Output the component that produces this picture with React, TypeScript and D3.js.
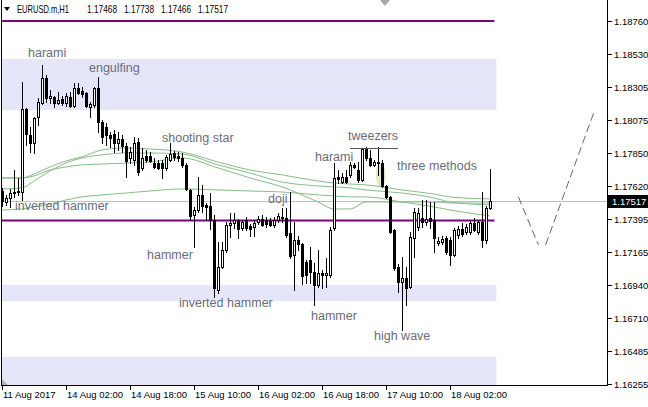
import React from 'react';
import * as d3 from 'd3';

const W = 648;
const H = 407;

const symbolName = 'EURUSD.m,H1';
const headerOHLC = ['1.17468', '1.17738', '1.17466', '1.17517'];

const opens = [1.17587,1.17511,1.17539,1.17573,1.17580,1.17580,1.18153,1.17974,1.17918,1.18098,1.18194,1.18367,1.18229,1.18236,1.18194,1.18222,1.18194,1.18236,1.18174,1.18298,1.18277,1.18263,1.18167,1.18181,1.18298,1.18063,1.18029,1.17974,1.17980,1.17918,1.17946,1.17898,1.17815,1.17801,1.17925,1.17746,1.17829,1.17829,1.17780,1.17780,1.17780,1.17746,1.17801,1.17849,1.17829,1.17815,1.17767,1.17594,1.17422,1.17456,1.17560,1.17491,1.17484,1.17387,1.16904,1.17063,1.17180,1.17353,1.17366,1.17387,1.17332,1.17387,1.17346,1.17339,1.17373,1.17394,1.17387,1.17380,1.17353,1.17387,1.17408,1.17401,1.17297,1.17146,1.17249,1.17221,1.17097,1.17111,1.17028,1.16939,1.17021,1.17008,1.17008,1.17332,1.17684,1.17649,1.17684,1.17698,1.17767,1.17732,1.17663,1.17877,1.17815,1.17767,1.17787,1.17780,1.17622,1.17546,1.17318,1.17063,1.16959,1.16987,1.16925,1.17263,1.17339,1.17401,1.17373,1.17401,1.17387,1.17228,1.17235,1.17263,1.17249,1.17146,1.17284,1.17325,1.17304,1.17304,1.17366,1.17304,1.17373,1.17249,1.17468];
const highs = [1.17608,1.17560,1.17601,1.17732,1.17677,1.18339,1.18160,1.18029,1.18098,1.18229,1.18457,1.18388,1.18284,1.18243,1.18270,1.18243,1.18263,1.18270,1.18332,1.18332,1.18305,1.18270,1.18201,1.18305,1.18374,1.18077,1.18056,1.17994,1.18008,1.17994,1.17974,1.17918,1.17891,1.17960,1.17953,1.17884,1.17870,1.17856,1.17815,1.17801,1.17801,1.17836,1.17918,1.17863,1.17856,1.17849,1.17780,1.17601,1.17477,1.17684,1.17629,1.17504,1.17573,1.17422,1.17235,1.17235,1.17373,1.17435,1.17435,1.17394,1.17387,1.17408,1.17359,1.17387,1.17415,1.17422,1.17408,1.17401,1.17408,1.17435,1.17470,1.17470,1.17580,1.17373,1.17277,1.17228,1.17111,1.17201,1.17090,1.17180,1.17042,1.17125,1.17339,1.17780,1.17732,1.17711,1.17732,1.17787,1.17780,1.17787,1.17884,1.17891,1.17870,1.17801,1.17891,1.17801,1.17629,1.17553,1.17325,1.17083,1.17132,1.17063,1.17304,1.17470,1.17470,1.17525,1.17525,1.17511,1.17511,1.17270,1.17277,1.17277,1.17270,1.17332,1.17346,1.17366,1.17359,1.17380,1.17401,1.17387,1.17580,1.17484,1.17738];
const lows = [1.17484,1.17491,1.17477,1.17546,1.17560,1.17525,1.17905,1.17856,1.17849,1.18043,1.18187,1.18201,1.18194,1.18167,1.18187,1.18181,1.18174,1.18167,1.18167,1.18256,1.18236,1.18167,1.18098,1.18167,1.17994,1.17918,1.17905,1.17891,1.17856,1.17870,1.17856,1.17684,1.17780,1.17767,1.17698,1.17732,1.17787,1.17787,1.17746,1.17739,1.17677,1.17732,1.17794,1.17801,1.17794,1.17753,1.17594,1.17387,1.17201,1.17442,1.17442,1.17387,1.17325,1.16856,1.16883,1.17056,1.17166,1.17270,1.17332,1.17263,1.17318,1.17318,1.17277,1.17277,1.17359,1.17346,1.17339,1.17346,1.17339,1.17373,1.17373,1.17270,1.17125,1.16904,1.17180,1.16945,1.16952,1.16952,1.16801,1.16925,1.16918,1.16925,1.16994,1.17318,1.17642,1.17642,1.17642,1.17684,1.17746,1.17649,1.17656,1.17801,1.17760,1.17760,1.17698,1.17615,1.17539,1.17297,1.17042,1.16890,1.16628,1.16801,1.16918,1.17132,1.17318,1.17339,1.17353,1.17332,1.17166,1.17215,1.17221,1.17152,1.17077,1.17139,1.17263,1.17277,1.17290,1.17290,1.17311,1.17290,1.17201,1.17228,1.17466];
const closes = [1.17518,1.17539,1.17573,1.17580,1.17587,1.18153,1.17980,1.17918,1.18091,1.18201,1.18367,1.18229,1.18243,1.18194,1.18215,1.18194,1.18243,1.18174,1.18298,1.18263,1.18256,1.18174,1.18187,1.18298,1.18063,1.17960,1.17974,1.17953,1.17918,1.17946,1.17898,1.17794,1.17856,1.17918,1.17718,1.17815,1.17801,1.17794,1.17753,1.17746,1.17746,1.17822,1.17842,1.17822,1.17815,1.17767,1.17601,1.17415,1.17456,1.17560,1.17484,1.17477,1.17387,1.16918,1.17063,1.17180,1.17353,1.17366,1.17387,1.17325,1.17373,1.17332,1.17325,1.17366,1.17394,1.17353,1.17359,1.17353,1.17387,1.17415,1.17401,1.17284,1.17139,1.17249,1.17221,1.17001,1.17008,1.17028,1.16939,1.17021,1.17008,1.17021,1.17318,1.17677,1.17670,1.17684,1.17649,1.17767,1.17753,1.17663,1.17877,1.17815,1.17767,1.17787,1.17780,1.17622,1.17546,1.17304,1.17056,1.16959,1.16987,1.16918,1.17270,1.17442,1.17435,1.17373,1.17394,1.17380,1.17263,1.17242,1.17256,1.17166,1.17146,1.17318,1.17325,1.17290,1.17339,1.17366,1.17318,1.17373,1.17249,1.17470,1.17517];

// moving averages sampled at bar indices
const maBars = [0,5,8,12,16,20,25,31,37,45,54,62,70,79,83,87,91,100,108,112,122];
const maA = [1.17677,1.17677,1.17704,1.17753,1.17794,1.17822,1.17870,1.17884,1.17877,1.17856,1.17787,1.17732,1.17698,1.17656,1.17642,1.17635,1.17629,1.17594,1.17566,1.17546,1.17532];
const maB = [1.17677,1.17677,1.17691,1.17732,1.17753,1.17767,1.17773,1.17780,1.17787,1.17815,1.17746,1.17677,1.17615,1.17511,1.17463,1.17463,1.17511,1.17511,1.17511,1.17504,1.17504];
const maC = [1.17601,1.17608,1.17656,1.17725,1.17780,1.17815,1.17836,1.17849,1.17849,1.17842,1.17767,1.17711,1.17649,1.17622,1.17615,1.17608,1.17594,1.17573,1.17539,1.17511,1.17491];
const maD = [1.17456,1.17463,1.17477,1.17497,1.17525,1.17546,1.17560,1.17573,1.17587,1.17601,1.17594,1.17587,1.17580,1.17560,1.17553,1.17546,1.17546,1.17511,1.17477,1.17456,1.17415];

const priceTicks = [1.18760,1.18530,1.18305,1.18075,1.17850,1.17620,1.17395,1.17165,1.16940,1.16710,1.16485,1.16255];
const timeTickBars = [0,16,32,48,64,80,96,112];
const timeTickLabels = ['11 Aug 2017','14 Aug 02:00','14 Aug 18:00','15 Aug 10:00','16 Aug 02:00','16 Aug 18:00','17 Aug 10:00','18 Aug 02:00'];

const lastPrice = 1.17517;
const levelLines = [1.18760, 1.17384];
const zoneLow = [1.18146, 1.16828, 1.16248];
const zoneHigh = [1.18498, 1.16939, 1.16442];

const patternNames = ['harami','engulfing','shooting star','tweezers','harami','three methods','doji','inverted hammer','hammer','inverted hammer','hammer','high wave'];
const patternBars = [6.5,21.75,40,86.5,78.25,98.75,66.5,3.25,36.25,44.25,77.25,93];
const patternPrices = [1.18512,1.18408,1.17925,1.17939,1.17794,1.17732,1.17504,1.17456,1.17118,1.16787,1.16697,1.16559];

const tweezerBars = [87, 99];
const tweezerPrice = 1.17884;
const highlightBar = 94.7;
const highlightPrice = 1.17698;

const projA = [[129.1, 1.17546], [134.1, 1.17215]];
const projB = [[135.9, 1.17215], [148.1, 1.18139]];

const FONT = '"Liberation Sans", Arial, sans-serif';

export default function App() {
  const x = d3.scaleLinear().domain([0, 122]).range([2, 490]);
  const y = d3.scaleLinear().domain([1.16255, 1.18760]).range([384, 21]);
  const py = (p: number) => Math.round(y(p));

  const maLine = d3
    .line<[number, number]>()
    .x((d) => x(d[0]))
    .y((d) => y(d[1]))
    .curve(d3.curveMonotoneX);
  const mas = [maA, maB, maC, maD].map((arr) => maBars.map((b, i) => [b, arr[i]] as [number, number]));

  const straight = d3.line<number[]>().x((d) => x(d[0])).y((d) => y(d[1]));

  const plotRight = 607;
  const zoneRight = x(123.6);
  const lineRight = x(123.1);

  return (
    <svg
      width={W}
      height={H}
      style={{ position: 'fixed', left: 0, top: 0, background: '#fff' }}
      fontFamily={FONT}
    >
      <rect x={0} y={0} width={W} height={H} fill="#fff" />
      {/* zones */}
      {zoneLow.map((lo, i) => (
        <rect
          key={'z' + i}
          x={1}
          y={y(zoneHigh[i])}
          width={zoneRight - 1}
          height={Math.min(385, y(lo)) - y(zoneHigh[i])}
          fill="#e6e6fa"
        />
      ))}
      {/* highlight ellipse */}
      <ellipse cx={x(highlightBar)} cy={y(highlightPrice)} rx={5} ry={12} fill="#e3ebc6" />
      {/* current price line */}
      <line x1={1} x2={plotRight} y1={py(lastPrice) + 0.5} y2={py(lastPrice) + 0.5} stroke="#c0c0c0" />
      {/* moving averages */}
      {mas.map((m, i) => (
        <path key={'ma' + i} d={maLine(m) || ''} fill="none" stroke="#88bc88" strokeWidth={1} />
      ))}
      {/* level lines */}
      {levelLines.map((p, i) => (
        <line key={'lv' + i} x1={1} x2={lineRight} y1={y(p)} y2={y(p)} stroke="#800080" strokeWidth={2} />
      ))}
      {/* candles */}
      {opens.map((o, i) => {
        const c = closes[i];
        const cx = Math.round(x(i));
        const top = py(Math.max(o, c));
        const bot = py(Math.min(o, c));
        const bull = c > o;
        return (
          <g key={'c' + i}>
            <line x1={cx + 0.5} x2={cx + 0.5} y1={py(highs[i])} y2={py(lows[i]) + 1} stroke="#000" />
            {bull ? (
              <rect x={cx - 0.5} y={top + 0.5} width={2} height={Math.max(0, bot - top)} fill="#fff" stroke="#000" />
            ) : (
              <rect x={cx - 1} y={top} width={3} height={Math.max(1, bot - top + 1)} fill="#000" />
            )}
          </g>
        );
      })}
      {/* tweezers line */}
      <line
        x1={x(tweezerBars[0])}
        x2={x(tweezerBars[1])}
        y1={py(tweezerPrice) + 0.5}
        y2={py(tweezerPrice) + 0.5}
        stroke="#5a5a5a"
      />
      {/* projection zigzag */}
      {[projA, projB].map((seg, i) => (
        <path key={'pj' + i} d={straight(seg) || ''} fill="none" stroke="#666" strokeWidth={1} strokeDasharray="8,4" />
      ))}
      {/* pattern labels */}
      {patternNames.map((t, i) => (
        <text key={'pt' + i} x={x(patternBars[i])} y={y(patternPrices[i])} fontSize={12.5} fill="#6c6c7a">
          {t}
        </text>
      ))}
      {/* frame */}
      <line x1={1.5} x2={1.5} y1={0} y2={385.5} stroke="#000" />
      <line x1={plotRight + 0.5} x2={plotRight + 0.5} y1={0} y2={385.5} stroke="#000" />
      <line x1={1} x2={plotRight + 1} y1={385.5} y2={385.5} stroke="#000" />
      {/* shift markers */}
      <path d="M380,0 L390,0 L385,6 Z" fill="#a8a8a8" />
      <path d="M2,379 L2,385 L8,385 Z" fill="#b4b4b4" />
      {/* price axis */}
      {priceTicks.map((p, i) => (
        <g key={'pt-ax' + i}>
          <line x1={plotRight + 1} x2={plotRight + 5} y1={py(p) + 0.5} y2={py(p) + 0.5} stroke="#000" />
          <text x={614} y={py(p) + 4} fontSize={9.5} fill="#000">
            {p.toFixed(5)}
          </text>
        </g>
      ))}
      <rect x={608} y={py(lastPrice) - 6} width={40} height={13} fill="#000" />
      <text x={612} y={py(lastPrice) + 4} fontSize={9.5} fill="#fff">
        {lastPrice.toFixed(5)}
      </text>
      {/* time axis */}
      {timeTickBars.map((b, i) => (
        <g key={'tt' + i}>
          <line x1={Math.round(x(b)) + 0.5} x2={Math.round(x(b)) + 0.5} y1={385} y2={390} stroke="#000" />
          <text x={Math.round(x(b)) + 1} y={398} fontSize={9.5} fill="#000">
            {timeTickLabels[i]}
          </text>
        </g>
      ))}
      {/* header */}
      <path d="M4,7 L10,7 L7,11 Z" fill="#000" />
      <text x={17} y={13} fontSize={10.5} fill="#000" textLength={52} lengthAdjust="spacingAndGlyphs">
        {symbolName}
      </text>
      {headerOHLC.map((v, i) => (
        <text key={'h' + i} x={87 + i * 37} y={13} fontSize={10.5} fill="#000" textLength={30} lengthAdjust="spacingAndGlyphs">
          {v}
        </text>
      ))}
    </svg>
  );
}
